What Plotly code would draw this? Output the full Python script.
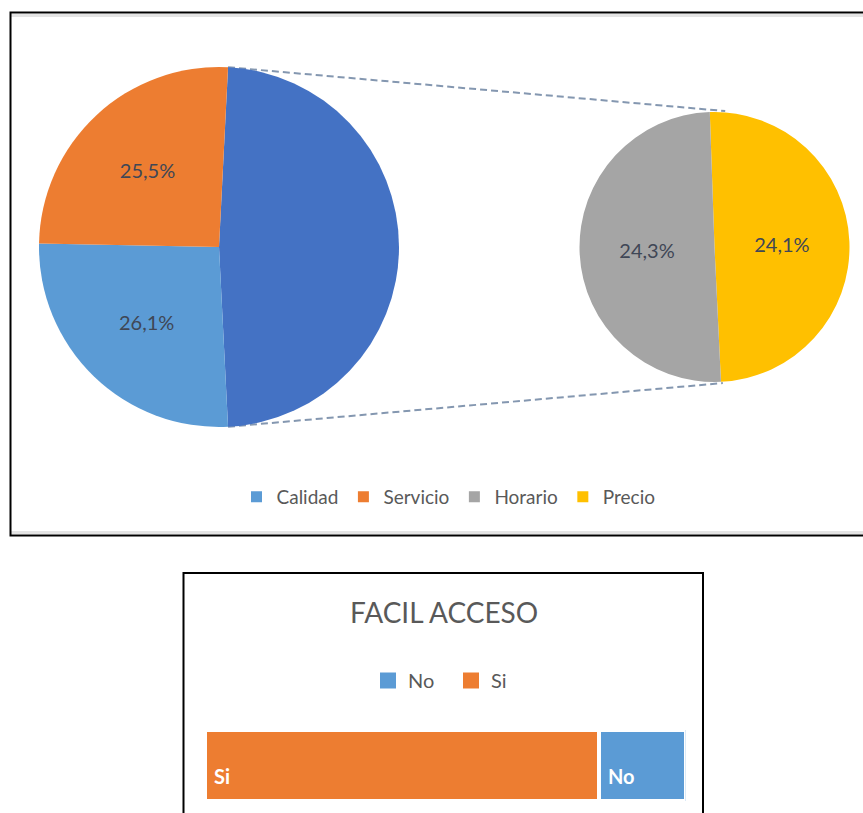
import math
import plotly.graph_objects as go

# ---------------------------------------------------------------
# Data
# ---------------------------------------------------------------
pie_labels = ["Calidad", "Servicio", "Horario", "Precio"]
pie_values = [26.1, 25.5, 24.3, 24.1]
pie_colors = ["#5B9BD5", "#ED7D31", "#A5A5A5", "#FFC000"]
other_color = "#4472C4"          # the "rest" slice of the main pie

# categories that are split out into the secondary pie
split_labels = ["Precio", "Horario"]

access_title = "FACIL ACCESO"
access_labels = ["Si", "No"]
access_values = [82, 18]
access_colors = ["#ED7D31", "#5B9BD5"]
access_legend_order = ["No", "Si"]

# ---------------------------------------------------------------
# Page geometry helpers (figure is drawn with zero margins)
# ---------------------------------------------------------------
W, H = 863, 813
FONT = "Lato"
TEXT_GREY = "#595959"
LABEL_COLOR = "#3F4756"


def px(x):
    return x / W


def py(y):
    return 1 - y / H


def fmt_pct(v):
    return f"{v:.1f}%".replace(".", ",")


color_of = dict(zip(pie_labels, pie_colors))
value_of = dict(zip(pie_labels, pie_values))

main_labels = [l for l in pie_labels if l not in split_labels]
other_value = sum(value_of[l] for l in split_labels)
total = sum(pie_values)

# main pie: the grouped slice is centred on 3 o'clock
big_cx, big_cy, big_r = 219, 247, 180
other_share = other_value / total
big_rotation = 90 - other_share * 360 / 2

# secondary pie
small_cx, small_cy, small_r = 714.5, 247, 135
small_rotation = -2

fig = go.Figure()

fig.add_trace(go.Pie(
    values=[other_value] + [value_of[l] for l in main_labels],
    labels=["Otros"] + main_labels,
    text=[""] + [fmt_pct(value_of[l]) for l in main_labels],
    textinfo="text",
    textposition="inside",
    insidetextorientation="horizontal",
    textfont=dict(family=FONT, size=20, color=LABEL_COLOR),
    marker=dict(colors=[other_color] + [color_of[l] for l in main_labels],
                line=dict(width=0)),
    sort=False,
    direction="clockwise",
    rotation=big_rotation,
    domain=dict(x=[px(big_cx - big_r), px(big_cx + big_r)],
                y=[py(big_cy + big_r), py(big_cy - big_r)]),
    showlegend=False,
    hoverinfo="skip",
))

fig.add_trace(go.Pie(
    values=[value_of[l] for l in split_labels],
    labels=split_labels,
    text=[fmt_pct(value_of[l]) for l in split_labels],
    textinfo="text",
    textposition="inside",
    insidetextorientation="horizontal",
    textfont=dict(family=FONT, size=20, color=LABEL_COLOR),
    marker=dict(colors=[color_of[l] for l in split_labels], line=dict(width=0)),
    sort=False,
    direction="clockwise",
    rotation=small_rotation,
    domain=dict(x=[px(small_cx - small_r), px(small_cx + small_r)],
                y=[py(small_cy + small_r), py(small_cy - small_r)]),
    showlegend=False,
    hoverinfo="skip",
))

# legend entries for the pie-of-pie chart
for lab in pie_labels:
    fig.add_trace(go.Scatter(
        x=[None], y=[None], mode="markers", name=lab,
        marker=dict(symbol="square", size=11, color=color_of[lab]),
        legend="legend", hoverinfo="skip",
    ))

# stacked 100% bar
for lab, val, col in zip(access_labels, access_values, access_colors):
    fig.add_trace(go.Bar(
        x=[val], y=[access_title], orientation="h", name=lab,
        marker=dict(color=col, line=dict(color="white", width=4)),
        showlegend=False, hoverinfo="skip",
    ))

access_color_of = dict(zip(access_labels, access_colors))
for lab in access_legend_order:
    fig.add_trace(go.Scatter(
        x=[None], y=[None], mode="markers", name=lab,
        marker=dict(symbol="square", size=16, color=access_color_of[lab]),
        legend="legend2", hoverinfo="skip",
    ))

# segment labels at the start of each bar segment
annotations = []
start = 0
for lab, val in zip(access_labels, access_values):
    annotations.append(dict(
        x=start, y=access_title, xref="x", yref="y",
        text=lab, showarrow=False, xanchor="left", yanchor="middle",
        xshift=7, yshift=-10,
        font=dict(family=FONT, size=20, color="white", weight="bold"),
    ))
    start += val

annotations.append(dict(
    x=px(443.5), y=py(612), xref="paper", yref="paper",
    text=access_title, showarrow=False, xanchor="center", yanchor="middle",
    font=dict(family=FONT, size=28, color=TEXT_GREY),
))

# ---------------------------------------------------------------
# Connector lines between the grouped slice and the secondary pie
# ---------------------------------------------------------------
def pt_on(cx, cy, r, ang):
    a = math.radians(ang)
    return cx + r * math.sin(a), cy - r * math.cos(a)


a0 = big_rotation
a1 = big_rotation + other_share * 360
p_big_top = pt_on(big_cx, big_cy, big_r, a0)
p_big_bot = pt_on(big_cx, big_cy, big_r, a1)
p_small_top = pt_on(small_cx, small_cy, small_r * 1.01, 4.5)
p_small_bot = pt_on(small_cx, small_cy, small_r * 1.01, 176.5)

shapes = []
for p, q in ((p_big_top, p_small_top), (p_big_bot, p_small_bot)):
    shapes.append(dict(
        type="line", xref="paper", yref="paper",
        x0=px(p[0]), y0=py(p[1]), x1=px(q[0]), y1=py(q[1]),
        line=dict(color="#8497B0", width=2, dash="7px,4px"),
        layer="below",
    ))

# frames around the two charts
shapes += [
    dict(type="line", xref="paper", yref="paper",
         x0=px(11), x1=px(870), y0=py(15.5), y1=py(15.5),
         line=dict(color="#E4E4E4", width=3)),
    dict(type="line", xref="paper", yref="paper",
         x0=px(11), x1=px(870), y0=py(532.5), y1=py(532.5),
         line=dict(color="#E4E4E4", width=3)),
    dict(type="rect", xref="paper", yref="paper",
         x0=px(10.5), x1=px(875), y0=py(535.5), y1=py(12.5),
         line=dict(color="black", width=2)),
    dict(type="rect", xref="paper", yref="paper",
         x0=px(183.5), x1=px(703), y0=py(830), y1=py(573),
         line=dict(color="black", width=2)),
]

fig.update_layout(
    width=W, height=H,
    margin=dict(l=0, r=0, t=0, b=0, pad=0),
    paper_bgcolor="white", plot_bgcolor="white",
    font=dict(family=FONT, color=TEXT_GREY),
    barmode="stack", bargap=0,
    xaxis=dict(domain=[px(204.7), px(685.3)], range=[0, sum(access_values)],
               visible=False, fixedrange=True),
    yaxis=dict(domain=[py(801), py(730)], range=[-0.5, 0.5], type="category",
               visible=False, fixedrange=True),
    legend=dict(orientation="h", x=px(448.5), xanchor="center",
                y=py(497), yanchor="middle", traceorder="normal",
                font=dict(family=FONT, size=19, color=TEXT_GREY),
                bgcolor="rgba(0,0,0,0)", itemclick=False, itemdoubleclick=False),
    legend2=dict(orientation="h", x=px(451), xanchor="center",
                 y=py(680.5), yanchor="middle", entrywidth=38,
                 traceorder="normal",
                 font=dict(family=FONT, size=20, color=TEXT_GREY),
                 bgcolor="rgba(0,0,0,0)", itemclick=False, itemdoubleclick=False),
    annotations=annotations,
    shapes=shapes,
)

fig.write_html("out.html", config=dict(displayModeBar=False))
